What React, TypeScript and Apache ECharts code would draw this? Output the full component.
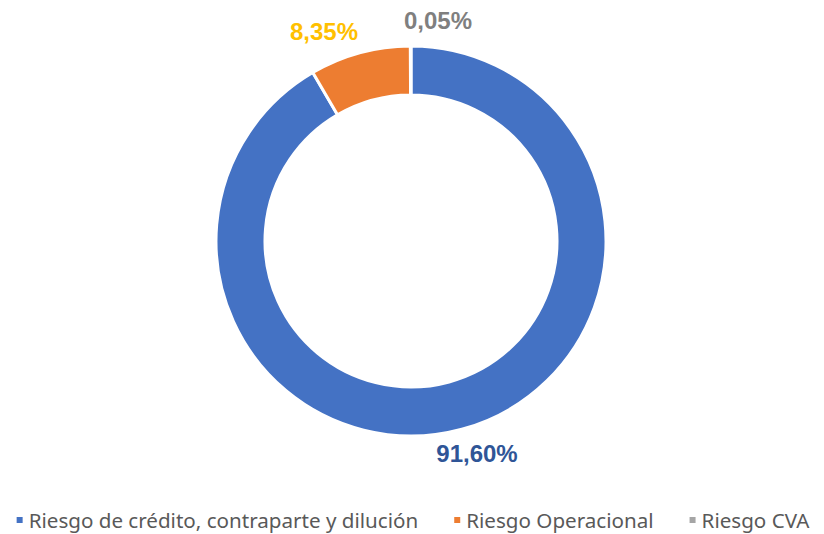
import React, { useEffect, useRef } from "react";
import * as echarts from "echarts";

const categories = ["Riesgo de crédito, contraparte y dilución", "Riesgo Operacional", "Riesgo CVA"];
const values = [91.6, 8.35, 0.05];
const labels = ["91,60%", "8,35%", "0,05%"];
const colors = ["#4472C4", "#ED7D31", "#A5A5A5"];
const labelColors = ["#2F5597", "#FFC000", "#7F7F7F"];
const labelPos: [number, number][] = [
  [477, 453],
  [324, 31],
  [438, 20],
];

export default function App() {
  const ref = useRef<HTMLDivElement>(null);
  useEffect(() => {
    if (!ref.current) return;
    const chart = echarts.init(ref.current, null, { renderer: "svg" });
    chart.setOption({
      animation: false,
      backgroundColor: "#ffffff",
      legend: {
        left: "center",
        top: 508,
        padding: 0,
        icon: "rect",
        itemWidth: 8,
        itemHeight: 8,
        itemGap: 34,
        textStyle: { fontFamily: "Noto Sans", fontSize: 20.6, lineHeight: 24, color: "#595959" },
        data: categories,
      },
      series: [
        {
          type: "pie",
          center: [411, 241],
          radius: [146, 195],
          startAngle: 90,
          clockwise: true,
          avoidLabelOverlap: false,
          itemStyle: { borderColor: "#ffffff", borderWidth: 3 },
          label: {
            show: true,
            position: "outside",
            fontFamily: "Arial, Liberation Sans",
            fontWeight: "bold",
            fontSize: 24,
            formatter: (p: any) => labels[p.dataIndex],
          },
          labelLine: { show: false },
          labelLayout: (p: any) => ({
            x: labelPos[p.dataIndex][0],
            y: labelPos[p.dataIndex][1],
            align: "center",
            verticalAlign: "middle",
          }),
          data: categories.map((c, i) => ({
            name: c,
            value: values[i],
            itemStyle: { color: colors[i] },
            label: { color: labelColors[i] },
          })),
        },
      ],
    });
    return () => chart.dispose();
  }, []);
  return <div ref={ref} style={{ position: "fixed", left: 0, top: 0, width: 824, height: 534 }} />;
}
